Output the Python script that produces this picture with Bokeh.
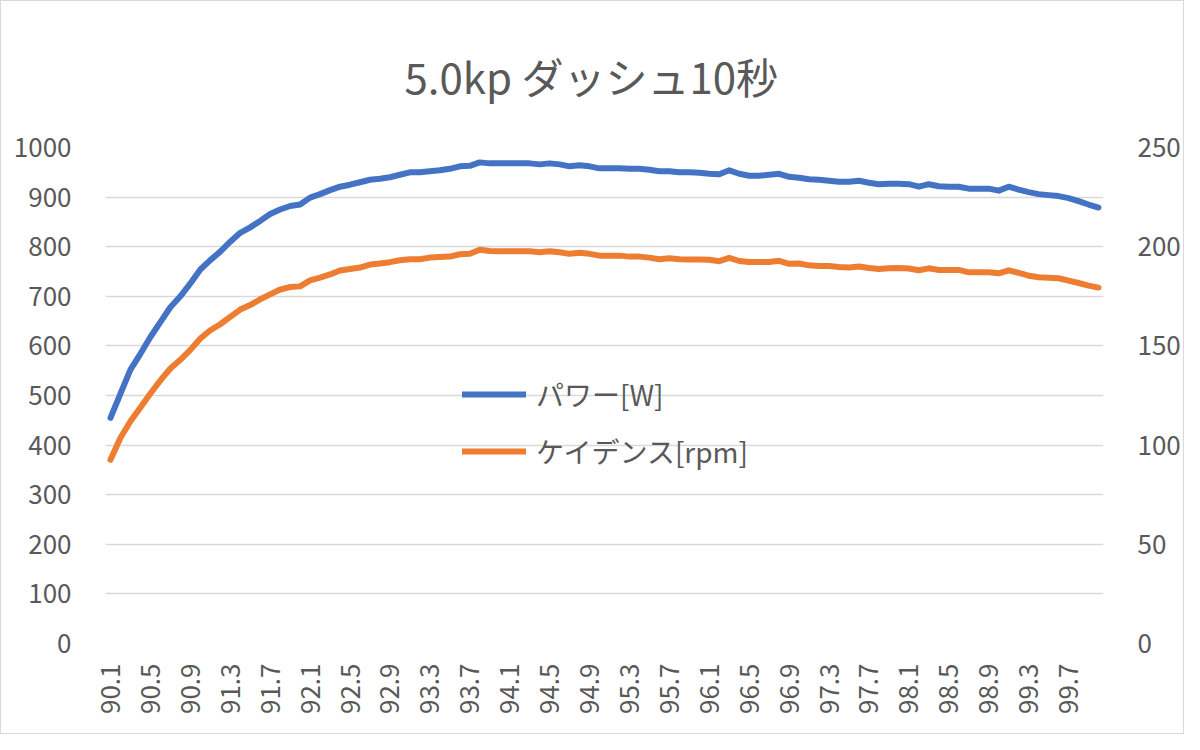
from bokeh.plotting import figure
from bokeh.models import (Range1d, LinearAxis, FixedTicker, Legend, LegendItem)
from bokeh.embed import file_html
from bokeh.resources import INLINE

title_text = "5.0kp ダッシュ10秒"
time_labels = [f"{90.1 + 0.1 * i:.1f}" for i in range(100)]
power = [455, 504, 552, 584, 618, 648, 678, 700, 726, 754,
         773, 790, 810, 828, 839, 852, 866, 875, 882, 885,
         899, 906, 914, 921, 925, 930, 935, 937, 940, 945,
         950, 950, 952, 954, 957, 962, 963, 970, 968, 968,
         968, 968, 968, 966, 968, 966, 962, 964, 962, 958,
         958, 958, 957, 957, 955, 952, 952, 950, 950, 949,
         947, 946, 954, 947, 943, 943, 945, 947, 941, 939,
         936, 935, 933, 931, 931, 933, 929, 926, 927, 927,
         926, 921, 926, 922, 921, 921, 917, 917, 917, 913,
         921, 915, 910, 906, 904, 902, 898, 892, 885, 879]
cadence = [92.6, 103.7, 112, 119, 126, 132.6, 138.6, 143, 148, 153.7,
           157.9, 160.9, 164.6, 168.3, 170.6, 173.5, 176, 178.4, 179.7, 180,
           183, 184.4, 186, 188, 188.8, 189.5, 191, 191.5, 192.2, 193.2,
           193.7, 193.7, 194.5, 194.8, 195, 196.2, 196.4, 198.5, 197.8, 197.7,
           197.7, 197.7, 197.7, 197.2, 197.7, 197.2, 196.4, 196.9, 196.4, 195.5,
           195.5, 195.5, 195, 195, 194.5, 193.7, 194.2, 193.7, 193.5, 193.5,
           193.4, 192.7, 194.4, 192.8, 192.3, 192.3, 192.3, 192.9, 191.4, 191.5,
           190.6, 190.3, 190.3, 189.8, 189.5, 190, 189.3, 188.8, 189.1, 189.3,
           189, 188.1, 189.1, 188.3, 188.3, 188.3, 187.1, 187.1, 187.1, 186.6,
           188.1, 186.8, 185.4, 184.6, 184.4, 184.1, 182.9, 181.7, 180.4, 179.4]
legend_labels = ["パワー[W]", "ケイデンス[rpm]"]
left_ticks = [0, 100, 200, 300, 400, 500, 600, 700, 800, 900, 1000]
right_ticks = [0, 50, 100, 150, 200, 250]

TEXT = "#595959"
GRID = "#D9D9D9"
FONT = "Noto Sans CJK JP"

xs = list(range(len(time_labels)))

p = figure(width=1184, height=734, output_backend="svg", toolbar_location=None,
           x_range=Range1d(-0.5, len(xs) - 0.5), y_range=Range1d(0, 1000),
           min_border_left=104, min_border_right=82, min_border_top=146,
           min_border_bottom=92, y_axis_location=None)
p.styles = {"border": "1.5px solid #D9D9D9"}
p.outline_line_color = None
p.background_fill_color = "white"
p.border_fill_color = "white"
p.extra_y_ranges = {"cad": Range1d(0, 250)}

p.title.text = title_text
p.title.align = "left"
p.title.offset = 299
p.title.vertical_align = "top"
p.title.text_font = FONT
p.title.text_font_size = "42px"
p.title.text_font_style = "normal"
p.title.text_color = TEXT
p.title.standoff = 80

def style_axis(ax, standoff):
    ax.axis_line_color = None
    ax.major_tick_line_color = None
    ax.minor_tick_line_color = None
    ax.major_label_text_font = FONT
    ax.major_label_text_font_size = "26px"
    ax.major_label_text_color = TEXT
    ax.major_label_standoff = standoff

yl = LinearAxis(ticker=FixedTicker(ticks=left_ticks))
style_axis(yl, 28)
p.add_layout(yl, "left")
yr = LinearAxis(y_range_name="cad", ticker=FixedTicker(ticks=right_ticks))
style_axis(yr, 28)
p.add_layout(yr, "right")

xa = p.xaxis[0]
xa.ticker = FixedTicker(ticks=xs[::4])
xa.major_label_overrides = {i: time_labels[i] for i in xs[::4]}
xa.major_label_orientation = 3.14159265 / 2
style_axis(xa, 14)

p.xgrid.visible = False
p.ygrid.ticker = FixedTicker(ticks=left_ticks)
p.ygrid.grid_line_color = GRID
p.ygrid.grid_line_width = 1.5

r1 = p.line(xs, power, line_color="#4472C4", line_width=6,
            line_cap="round", line_join="round")
r2 = p.line(xs, cadence, line_color="#ED7D31", line_width=6,
            line_cap="round", line_join="round", y_range_name="cad")

legend = Legend(items=[LegendItem(label=legend_labels[0], renderers=[r1]),
                       LegendItem(label=legend_labels[1], renderers=[r2])],
                location=(357, 172), padding=0, margin=0, spacing=17,
                glyph_width=64, glyph_height=30, label_height=30,
                label_standoff=10, border_line_color=None,
                background_fill_alpha=0,
                label_text_font=FONT, label_text_font_size="28px",
                label_text_color=TEXT)
p.add_layout(legend, "center")

open("out.html", "w").write(file_html(p, INLINE))
